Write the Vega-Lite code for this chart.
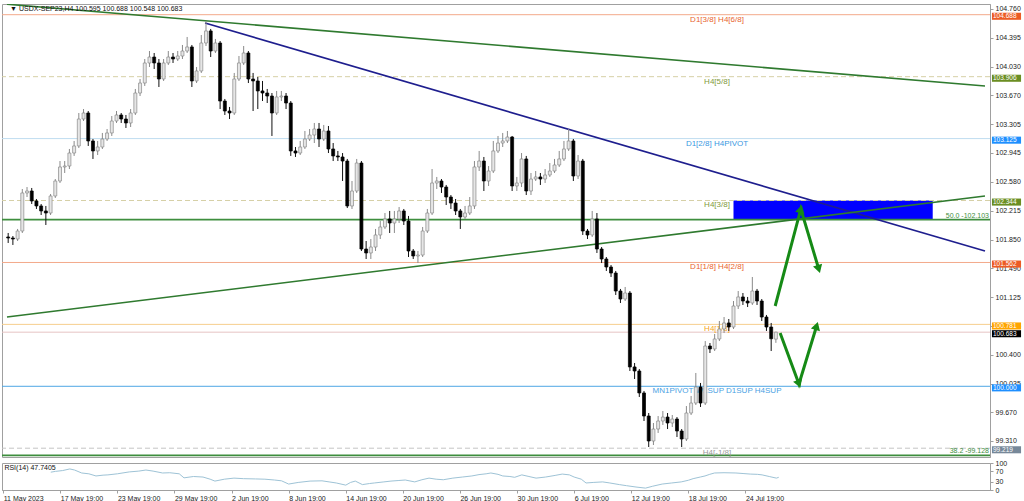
{
"$schema":"https://vega.github.io/schema/vega-lite/v6.json",
"padding":{"left":0,"top":3,"right":0,"bottom":0},
"background":"white",
"spacing":0,
"config":{"view":{"stroke":"#A0A0A0","strokeWidth":1},"axis":{"labelFont":"Liberation Sans","labelFontSize":7,"labelColor":"#222","domainColor":"#A0A0A0","tickColor":"#A0A0A0","grid":false},"text":{"font":"Liberation Sans"}},
"datasets":{
"candles":[
{"t":0,"o":101.884,"h":101.934,"l":101.808,"c":101.871},
{"t":2,"o":101.871,"h":101.896,"l":101.783,"c":101.858},
{"t":4,"o":101.858,"h":101.985,"l":101.833,"c":101.959},
{"t":6,"o":101.959,"h":102.489,"l":101.934,"c":102.439},
{"t":8,"o":102.439,"h":102.514,"l":102.388,"c":102.464},
{"t":10,"o":102.464,"h":102.502,"l":102.300,"c":102.338},
{"t":12,"o":102.338,"h":102.363,"l":102.237,"c":102.275},
{"t":14,"o":102.275,"h":102.300,"l":102.161,"c":102.212},
{"t":16,"o":102.212,"h":102.275,"l":102.035,"c":102.186},
{"t":18,"o":102.186,"h":102.426,"l":102.161,"c":102.401},
{"t":20,"o":102.401,"h":102.615,"l":102.376,"c":102.590},
{"t":22,"o":102.590,"h":102.842,"l":102.565,"c":102.767},
{"t":24,"o":102.767,"h":102.842,"l":102.691,"c":102.779},
{"t":26,"o":102.779,"h":102.994,"l":102.741,"c":102.943},
{"t":28,"o":102.943,"h":103.095,"l":102.906,"c":103.032},
{"t":30,"o":103.032,"h":103.448,"l":103.006,"c":103.372},
{"t":32,"o":103.372,"h":103.498,"l":103.347,"c":103.448},
{"t":34,"o":103.448,"h":103.473,"l":103.032,"c":103.095},
{"t":36,"o":103.095,"h":103.120,"l":102.868,"c":102.969},
{"t":38,"o":102.969,"h":103.095,"l":102.918,"c":103.019},
{"t":40,"o":103.019,"h":103.196,"l":102.994,"c":103.120},
{"t":42,"o":103.120,"h":103.246,"l":103.095,"c":103.196},
{"t":44,"o":103.196,"h":103.410,"l":103.158,"c":103.347},
{"t":46,"o":103.347,"h":103.473,"l":103.322,"c":103.423},
{"t":48,"o":103.423,"h":103.448,"l":103.322,"c":103.372},
{"t":50,"o":103.372,"h":103.423,"l":103.259,"c":103.322},
{"t":52,"o":103.322,"h":103.498,"l":103.271,"c":103.448},
{"t":54,"o":103.448,"h":103.751,"l":103.423,"c":103.700},
{"t":56,"o":103.700,"h":103.877,"l":103.662,"c":103.826},
{"t":58,"o":103.826,"h":104.129,"l":103.789,"c":104.079},
{"t":60,"o":104.079,"h":104.230,"l":104.028,"c":104.154},
{"t":62,"o":104.154,"h":104.205,"l":104.003,"c":104.079},
{"t":64,"o":104.079,"h":104.129,"l":103.776,"c":103.877},
{"t":66,"o":103.877,"h":104.129,"l":103.852,"c":104.079},
{"t":68,"o":104.079,"h":104.230,"l":104.054,"c":104.154},
{"t":70,"o":104.154,"h":104.205,"l":104.079,"c":104.129},
{"t":72,"o":104.129,"h":104.230,"l":104.104,"c":104.167},
{"t":74,"o":104.167,"h":104.306,"l":104.129,"c":104.230},
{"t":76,"o":104.230,"h":104.407,"l":104.205,"c":104.281},
{"t":78,"o":104.281,"h":104.306,"l":103.776,"c":103.852},
{"t":80,"o":103.852,"h":104.028,"l":103.826,"c":103.978},
{"t":82,"o":103.978,"h":104.432,"l":103.953,"c":104.331},
{"t":84,"o":104.331,"h":104.609,"l":104.293,"c":104.483},
{"t":86,"o":104.483,"h":104.508,"l":104.154,"c":104.230},
{"t":88,"o":104.230,"h":104.382,"l":104.205,"c":104.331},
{"t":90,"o":104.331,"h":104.356,"l":103.498,"c":103.599},
{"t":92,"o":103.599,"h":103.625,"l":103.423,"c":103.473},
{"t":94,"o":103.473,"h":103.524,"l":103.372,"c":103.448},
{"t":96,"o":103.448,"h":103.953,"l":103.423,"c":103.877},
{"t":98,"o":103.877,"h":104.167,"l":103.852,"c":104.079},
{"t":100,"o":104.079,"h":104.293,"l":104.054,"c":104.205},
{"t":102,"o":104.205,"h":104.230,"l":103.826,"c":103.877},
{"t":104,"o":103.877,"h":103.953,"l":103.473,"c":103.852},
{"t":106,"o":103.852,"h":103.902,"l":103.498,"c":103.726},
{"t":108,"o":103.726,"h":103.852,"l":103.599,"c":103.700},
{"t":110,"o":103.700,"h":103.751,"l":103.574,"c":103.662},
{"t":112,"o":103.662,"h":103.700,"l":103.158,"c":103.448},
{"t":114,"o":103.448,"h":103.726,"l":103.423,"c":103.650},
{"t":116,"o":103.650,"h":103.726,"l":103.599,"c":103.662},
{"t":118,"o":103.662,"h":103.700,"l":103.498,"c":103.574},
{"t":120,"o":103.574,"h":103.599,"l":102.906,"c":102.969},
{"t":122,"o":102.969,"h":103.019,"l":102.893,"c":102.943},
{"t":124,"o":102.943,"h":103.095,"l":102.918,"c":103.019},
{"t":126,"o":103.019,"h":103.221,"l":102.994,"c":103.120},
{"t":128,"o":103.120,"h":103.246,"l":103.095,"c":103.170},
{"t":130,"o":103.170,"h":103.322,"l":103.069,"c":103.246},
{"t":132,"o":103.246,"h":103.322,"l":103.019,"c":103.120},
{"t":134,"o":103.120,"h":103.297,"l":103.095,"c":103.221},
{"t":136,"o":103.221,"h":103.284,"l":102.943,"c":102.994},
{"t":138,"o":102.994,"h":103.069,"l":102.842,"c":102.906},
{"t":140,"o":102.906,"h":102.969,"l":102.842,"c":102.893},
{"t":142,"o":102.893,"h":102.943,"l":102.590,"c":102.842},
{"t":144,"o":102.842,"h":102.868,"l":102.249,"c":102.275},
{"t":146,"o":102.275,"h":102.590,"l":102.237,"c":102.464},
{"t":148,"o":102.464,"h":102.868,"l":102.439,"c":102.817},
{"t":150,"o":102.817,"h":102.842,"l":101.707,"c":101.732},
{"t":152,"o":101.732,"h":101.833,"l":101.606,"c":101.682},
{"t":154,"o":101.682,"h":101.858,"l":101.606,"c":101.757},
{"t":156,"o":101.757,"h":101.985,"l":101.707,"c":101.909},
{"t":158,"o":101.909,"h":102.085,"l":101.858,"c":102.010},
{"t":160,"o":102.010,"h":102.186,"l":101.985,"c":102.111},
{"t":162,"o":102.111,"h":102.212,"l":101.934,"c":102.060},
{"t":164,"o":102.060,"h":102.212,"l":101.934,"c":102.111},
{"t":166,"o":102.111,"h":102.262,"l":102.060,"c":102.212},
{"t":168,"o":102.212,"h":102.237,"l":102.035,"c":102.085},
{"t":170,"o":102.085,"h":102.149,"l":101.631,"c":101.707},
{"t":172,"o":101.707,"h":101.732,"l":101.606,"c":101.644},
{"t":174,"o":101.644,"h":101.707,"l":101.555,"c":101.656},
{"t":176,"o":101.656,"h":102.010,"l":101.631,"c":101.959},
{"t":178,"o":101.959,"h":102.237,"l":101.934,"c":102.186},
{"t":180,"o":102.186,"h":102.741,"l":102.161,"c":102.565},
{"t":182,"o":102.565,"h":102.641,"l":102.489,"c":102.590},
{"t":184,"o":102.590,"h":102.615,"l":102.439,"c":102.514},
{"t":186,"o":102.514,"h":102.540,"l":102.287,"c":102.388},
{"t":188,"o":102.388,"h":102.413,"l":102.237,"c":102.312},
{"t":190,"o":102.312,"h":102.363,"l":102.161,"c":102.212},
{"t":192,"o":102.212,"h":102.237,"l":101.985,"c":102.136},
{"t":194,"o":102.136,"h":102.275,"l":102.111,"c":102.186},
{"t":196,"o":102.186,"h":102.388,"l":102.161,"c":102.275},
{"t":198,"o":102.275,"h":102.842,"l":102.237,"c":102.767},
{"t":200,"o":102.767,"h":102.969,"l":102.716,"c":102.842},
{"t":202,"o":102.842,"h":102.893,"l":102.464,"c":102.590},
{"t":204,"o":102.590,"h":102.779,"l":102.527,"c":102.716},
{"t":206,"o":102.716,"h":103.095,"l":102.691,"c":102.969},
{"t":208,"o":102.969,"h":103.158,"l":102.943,"c":103.069},
{"t":210,"o":103.069,"h":103.196,"l":103.019,"c":103.095},
{"t":212,"o":103.095,"h":103.221,"l":103.069,"c":103.145},
{"t":214,"o":103.145,"h":103.158,"l":102.464,"c":102.527},
{"t":216,"o":102.527,"h":102.641,"l":102.464,"c":102.565},
{"t":218,"o":102.565,"h":102.943,"l":102.514,"c":102.868},
{"t":220,"o":102.868,"h":102.906,"l":102.413,"c":102.464},
{"t":222,"o":102.464,"h":102.691,"l":102.413,"c":102.615},
{"t":224,"o":102.615,"h":102.716,"l":102.590,"c":102.641},
{"t":226,"o":102.641,"h":102.691,"l":102.540,"c":102.615},
{"t":228,"o":102.615,"h":102.741,"l":102.565,"c":102.666},
{"t":230,"o":102.666,"h":102.817,"l":102.641,"c":102.716},
{"t":232,"o":102.716,"h":102.868,"l":102.691,"c":102.792},
{"t":234,"o":102.792,"h":102.969,"l":102.767,"c":102.868},
{"t":236,"o":102.868,"h":103.095,"l":102.842,"c":102.994},
{"t":238,"o":102.994,"h":103.246,"l":102.969,"c":103.095},
{"t":240,"o":103.095,"h":103.120,"l":102.590,"c":102.653},
{"t":242,"o":102.653,"h":102.918,"l":102.615,"c":102.842},
{"t":244,"o":102.842,"h":102.868,"l":101.909,"c":101.959},
{"t":246,"o":101.959,"h":101.985,"l":101.858,"c":101.909},
{"t":248,"o":101.909,"h":102.212,"l":101.884,"c":102.111},
{"t":250,"o":102.111,"h":102.186,"l":101.682,"c":101.732},
{"t":252,"o":101.732,"h":101.757,"l":101.555,"c":101.606},
{"t":254,"o":101.606,"h":101.631,"l":101.455,"c":101.505},
{"t":256,"o":101.505,"h":101.530,"l":101.379,"c":101.429},
{"t":258,"o":101.429,"h":101.455,"l":101.152,"c":101.202},
{"t":260,"o":101.202,"h":101.228,"l":101.051,"c":101.101},
{"t":262,"o":101.101,"h":101.253,"l":101.076,"c":101.177},
{"t":264,"o":101.177,"h":101.202,"l":100.193,"c":100.244},
{"t":266,"o":100.244,"h":100.294,"l":100.092,"c":100.193},
{"t":268,"o":100.193,"h":100.218,"l":99.865,"c":99.916},
{"t":270,"o":99.916,"h":99.941,"l":99.562,"c":99.625},
{"t":272,"o":99.625,"h":99.663,"l":99.234,"c":99.310},
{"t":274,"o":99.310,"h":99.537,"l":99.259,"c":99.461},
{"t":276,"o":99.461,"h":99.625,"l":99.411,"c":99.562},
{"t":278,"o":99.562,"h":99.688,"l":99.512,"c":99.612},
{"t":280,"o":99.612,"h":99.663,"l":99.461,"c":99.537},
{"t":282,"o":99.537,"h":99.638,"l":99.486,"c":99.587},
{"t":284,"o":99.587,"h":99.612,"l":99.360,"c":99.436},
{"t":286,"o":99.436,"h":99.461,"l":99.234,"c":99.335},
{"t":288,"o":99.335,"h":99.751,"l":99.310,"c":99.663},
{"t":290,"o":99.663,"h":99.878,"l":99.638,"c":99.789},
{"t":292,"o":99.789,"h":100.168,"l":99.764,"c":99.991},
{"t":294,"o":99.991,"h":100.042,"l":99.739,"c":99.789},
{"t":296,"o":99.789,"h":100.571,"l":99.764,"c":100.508},
{"t":298,"o":100.508,"h":100.546,"l":100.420,"c":100.471},
{"t":300,"o":100.471,"h":100.660,"l":100.445,"c":100.597},
{"t":302,"o":100.597,"h":100.824,"l":100.571,"c":100.723},
{"t":304,"o":100.723,"h":100.874,"l":100.672,"c":100.799},
{"t":306,"o":100.799,"h":100.849,"l":100.698,"c":100.748},
{"t":308,"o":100.748,"h":101.076,"l":100.723,"c":101.013},
{"t":310,"o":101.013,"h":101.202,"l":100.975,"c":101.127},
{"t":312,"o":101.127,"h":101.177,"l":101.026,"c":101.076},
{"t":314,"o":101.076,"h":101.127,"l":101.000,"c":101.051},
{"t":316,"o":101.051,"h":101.379,"l":101.026,"c":101.202},
{"t":318,"o":101.202,"h":101.228,"l":101.026,"c":101.076},
{"t":320,"o":101.076,"h":101.101,"l":100.824,"c":100.874},
{"t":322,"o":100.874,"h":100.900,"l":100.698,"c":100.748},
{"t":324,"o":100.748,"h":100.799,"l":100.445,"c":100.600},
{"t":326,"o":100.595,"h":100.688,"l":100.548,"c":100.683}
],
"levels":[
{"p":104.688,"name":"D1[3/8] H4[6/8]","kind":"r"},
{"p":103.906,"name":"H4[5/8]","kind":"ol"},
{"p":103.125,"name":"D1[2/8] H4PIVOT","kind":"bl"},
{"p":102.344,"name":"H4[3/8]","kind":"ol"},
{"p":101.562,"name":"D1[1/8] H4[2/8]","kind":"r"},
{"p":100.781,"name":"H4[1/8]","kind":"or"},
{"p":100.000,"name":"MN1PIVOT W1SUP D1SUP H4SUP","kind":"sup"},
{"p":99.219,"name":"H4[-1/8]","kind":"gr"},
{"p":100.683,"name":"","kind":"bid"}
],
"fibs":[
{"p":102.103,"name":"50.0 -102.103"},
{"p":99.128,"name":"38.2 -99.128"}
],
"trends":[
{"g":"top","t":-0.5,"p":104.820},
{"g":"top","t":414.8,"p":103.789},
{"g":"down","t":83.6,"p":104.583},
{"g":"down","t":414.8,"p":101.707},
{"g":"up","t":-0.5,"p":100.874},
{"g":"up","t":414.8,"p":102.401}
],
"zone":[{"t1":308.0,"t2":392.6,"p1":102.103,"p2":102.344}],
"arrows":[
{"g":"a1","t":325.7,"p":101.013},
{"g":"a1","t":336.6,"p":102.237},
{"g":"a1","t":344.2,"p":101.480},
{"g":"a2","t":327.8,"p":100.672},
{"g":"a2","t":335.8,"p":100.029},
{"g":"a2","t":343.3,"p":100.761}
],
"heads":[
{"t":336.6,"p":102.237,"ang":15},
{"t":344.2,"p":101.480,"ang":163},
{"t":335.8,"p":100.029,"ang":160},
{"t":343.3,"p":100.761,"ang":17}
],
"rsi":[
{"t":20,"r":66},{"t":22,"r":69},{"t":25,"r":72},{"t":28,"r":78},{"t":30,"r":74},{"t":33,"r":63},{"t":36,"r":60},{"t":39,"r":52},{"t":42,"r":55},{"t":44,"r":56},{"t":48,"r":60},{"t":53,"r":67},{"t":57,"r":70},{"t":60,"r":74},{"t":63,"r":70},{"t":67,"r":63},{"t":70,"r":64},{"t":74,"r":60},{"t":76,"r":45},{"t":80,"r":50},{"t":84,"r":48},{"t":87,"r":40},{"t":89,"r":33},{"t":93,"r":40},{"t":97,"r":44},{"t":101,"r":42},{"t":106,"r":41},{"t":110,"r":40},{"t":114,"r":37},{"t":117,"r":34},{"t":120,"r":22},{"t":124,"r":28},{"t":129,"r":33},{"t":134,"r":34},{"t":137,"r":30},{"t":140,"r":26},{"t":144,"r":18},{"t":146,"r":28},{"t":148,"r":33},{"t":151,"r":20},{"t":154,"r":24},{"t":156,"r":26},{"t":160,"r":30},{"t":163,"r":33},{"t":166,"r":35},{"t":169,"r":37},{"t":173,"r":30},{"t":176,"r":38},{"t":179,"r":44},{"t":182,"r":40},{"t":185,"r":38},{"t":189,"r":44},{"t":193,"r":48},{"t":197,"r":52},{"t":200,"r":57},{"t":203,"r":60},{"t":205,"r":63},{"t":208,"r":58},{"t":210,"r":52},{"t":213,"r":50},{"t":215,"r":47},{"t":218,"r":56},{"t":221,"r":50},{"t":224,"r":44},{"t":228,"r":48},{"t":232,"r":54},{"t":235,"r":59},{"t":238,"r":56},{"t":240,"r":48},{"t":243,"r":40},{"t":245,"r":26},{"t":248,"r":28},{"t":252,"r":30},{"t":255,"r":26},{"t":259,"r":20},{"t":262,"r":16},{"t":266,"r":11},{"t":270,"r":7},{"t":273,"r":14},{"t":277,"r":22},{"t":281,"r":26},{"t":285,"r":30},{"t":288,"r":36},{"t":290,"r":42},{"t":293,"r":48},{"t":295,"r":52},{"t":297,"r":58},{"t":299,"r":63},{"t":303,"r":64},{"t":308,"r":63},{"t":311,"r":61},{"t":314,"r":59},{"t":317,"r":58},{"t":319,"r":56},{"t":322,"r":50},{"t":325,"r":44},{"t":326,"r":47}
]
},
"vconcat":[
{
"width":988,"height":453,
"resolve":{"scale":{"color":"independent","strokeDash":"independent"},"axis":{"x":"independent","y":"independent"}},
"layer":[
{"data":{"name":"zone"},"mark":{"type":"rect","color":"#0000FF"},
 "encoding":{"x":{"field":"t1","type":"quantitative","scale":{"domain":[-0.5,414.8],"nice":false,"zero":false},"axis":null},"x2":{"field":"t2"},
 "y":{"field":"p1","type":"quantitative","scale":{"domain":[99.108,104.823],"nice":false,"zero":false},"axis":{"orient":"right","title":null,"values":[104.76,104.395,104.03,103.67,103.305,102.945,102.58,102.215,101.85,101.49,101.125,100.76,100.4,100.035,99.67,99.31],"format":".3f","tickSize":3,"labelPadding":2,"labelFontSize":7,"labelOverlap":false,"labelFlush":false}},"y2":{"field":"p2"}}},
{"data":{"name":"levels"},"mark":{"type":"rule","strokeWidth":1},
 "encoding":{"y":{"field":"p","type":"quantitative","scale":{"domain":[99.108,104.823],"nice":false,"zero":false},"axis":null},
 "color":{"field":"kind","type":"nominal","legend":null,"scale":{"domain":["r","ol","bl","or","sup","gr","bid"],"range":["#F3A98A","#D6D0A6","#BFDDF0","#F6CF8E","#4EA6E4","#C4C4C4","#E6C3C3"]}},
 "strokeDash":{"field":"kind","type":"nominal","legend":null,"scale":{"domain":["r","ol","bl","or","sup","gr","bid"],"range":[[1,0],[5,3],[1,0],[1,0],[1,0],[5,3],[1,0]]}}}},
{"data":{"name":"fibs"},"mark":{"type":"rule","strokeWidth":1.6,"color":"#3E8E3E"},
 "encoding":{"y":{"field":"p","type":"quantitative","scale":{"domain":[99.108,104.823],"nice":false,"zero":false},"axis":null}}},
{"data":{"name":"trends"},"mark":{"type":"line","strokeWidth":1.6,"clip":true},
 "encoding":{"x":{"field":"t","type":"quantitative","scale":{"domain":[-0.5,414.8],"nice":false,"zero":false},"axis":null},
 "y":{"field":"p","type":"quantitative","scale":{"domain":[99.108,104.823],"nice":false,"zero":false},"axis":null},
 "detail":{"field":"g"},
 "color":{"field":"g","type":"nominal","legend":null,"scale":{"domain":["top","down","up"],"range":["#2F7A2F","#1E1E8E","#2F7A2F"]}}}},
{"data":{"name":"levels"},"transform":[{"filter":"datum.name != ''"}],"mark":{"type":"text","align":"center","baseline":"top","dy":1,"fontSize":8},
 "encoding":{"x":{"datum":301,"type":"quantitative","scale":{"domain":[-0.5,414.8],"nice":false,"zero":false},"axis":null},
 "y":{"field":"p","type":"quantitative","scale":{"domain":[99.108,104.823],"nice":false,"zero":false},"axis":null},
 "text":{"field":"name"},
 "color":{"field":"kind","type":"nominal","legend":null,"scale":{"domain":["r","ol","bl","or","sup","gr","bid"],"range":["#E8642E","#7F9A3C","#3A98DF","#F5A623","#4A9FE3","#9A9A9A","#000000"]}}}},
{"data":{"name":"fibs"},"mark":{"type":"text","align":"right","baseline":"bottom","dx":-1,"dy":-1,"fontSize":7,"color":"#3E8E3E"},
 "encoding":{"x":{"value":"width"},
 "y":{"field":"p","type":"quantitative","scale":{"domain":[99.108,104.823],"nice":false,"zero":false},"axis":null},
 "text":{"field":"name"}}},
{"data":{"name":"candles"},"mark":{"type":"rule","strokeWidth":1},
 "encoding":{"x":{"field":"t","type":"quantitative","scale":{"domain":[-0.5,414.8],"nice":false,"zero":false},"axis":null},
 "y":{"field":"l","type":"quantitative","scale":{"domain":[99.108,104.823],"nice":false,"zero":false},"axis":null},"y2":{"field":"h"},
 "color":{"condition":{"test":"datum.c >= datum.o","value":"#8A8A8A"},"value":"#111111"}}},
{"data":{"name":"candles"},"mark":{"type":"bar","size":3,"strokeWidth":0.7},
 "encoding":{"x":{"field":"t","type":"quantitative","scale":{"domain":[-0.5,414.8],"nice":false,"zero":false},"axis":null},
 "y":{"field":"o","type":"quantitative","scale":{"domain":[99.108,104.823],"nice":false,"zero":false},"axis":null},"y2":{"field":"c"},
 "fill":{"condition":{"test":"datum.c >= datum.o","value":"#E6E6E6"},"value":"#000000"},
 "stroke":{"condition":{"test":"datum.c >= datum.o","value":"#8A8A8A"},"value":"#000000"}}},
{"data":{"name":"arrows"},"mark":{"type":"line","strokeWidth":3,"color":"#168A16","strokeJoin":"miter"},
 "encoding":{"x":{"field":"t","type":"quantitative","scale":{"domain":[-0.5,414.8],"nice":false,"zero":false},"axis":null},
 "y":{"field":"p","type":"quantitative","scale":{"domain":[99.108,104.823],"nice":false,"zero":false},"axis":null},
 "detail":{"field":"g"}}},
{"data":{"name":"heads"},"mark":{"type":"point","shape":"triangle-up","filled":true,"opacity":1,"color":"#168A16","size":90},
 "encoding":{"x":{"field":"t","type":"quantitative","scale":{"domain":[-0.5,414.8],"nice":false,"zero":false},"axis":null},
 "y":{"field":"p","type":"quantitative","scale":{"domain":[99.108,104.823],"nice":false,"zero":false},"axis":null},
 "angle":{"field":"ang","type":"quantitative","scale":null}}},
{"data":{"name":"levels"},"mark":{"type":"point","shape":"M0.13,-0.13L2.07,-0.13L2.07,0.34L0.13,0.34Z","filled":true,"opacity":1,"size":900,"strokeWidth":0},
 "encoding":{"x":{"value":"width"},
 "y":{"field":"p","type":"quantitative","scale":{"domain":[99.108,104.823],"nice":false,"zero":false},"axis":null},
 "color":{"field":"kind","type":"nominal","legend":null,"scale":{"domain":["r","ol","bl","or","sup","gr","bid"],"range":["#EC5B24","#6B8E23","#1E8FFF","#FFA500","#1E8FFF","#778899","#000000"]}}}},
{"data":{"name":"levels"},"mark":{"type":"text","align":"left","baseline":"middle","dx":3,"dy":1.6,"fontSize":6.5,"color":"#FFFFFF"},
 "encoding":{"x":{"value":"width"},
 "y":{"field":"p","type":"quantitative","scale":{"domain":[99.108,104.823],"nice":false,"zero":false},"axis":null},
 "text":{"field":"p","type":"quantitative","format":".3f"}}},
{"data":{"values":[{"s":"▼ USDX-SEP23,H4  100.595 100.688 100.548 100.683"}]},"mark":{"type":"text","align":"left","baseline":"middle","fontSize":7,"color":"#111111"},
 "encoding":{"x":{"datum":0.8,"type":"quantitative","scale":{"domain":[-0.5,414.8],"nice":false,"zero":false},"axis":null},
 "y":{"datum":104.765,"type":"quantitative","scale":{"domain":[99.108,104.823],"nice":false,"zero":false},"axis":null},
 "text":{"field":"s"}}}
]
},
{
"width":988,"height":27,
"resolve":{"axis":{"x":"independent","y":"independent"}},
"layer":[
{"data":{"name":"rsi"},"mark":{"type":"line","color":"#9EC3D6","strokeWidth":1},
 "encoding":{"x":{"field":"t","type":"quantitative","scale":{"domain":[-0.5,414.8],"nice":false,"zero":false},
  "axis":{"title":null,"values":[0,24,48,72,96,120,144,168,192,216,240,264,288,312],"labelExpr":"['11 May 2023','17 May 19:00','23 May 19:00','29 May 19:00','2 Jun 19:00','8 Jun 19:00','14 Jun 19:00','20 Jun 19:00','26 Jun 19:00','30 Jun 19:00','6 Jul 19:00','12 Jul 19:00','18 Jul 19:00','24 Jul 19:00'][round(datum.value/24)]","labelAlign":"left","labelPadding":1,"tickSize":3,"labelFontSize":7,"labelOverlap":false,"labelFlush":false}},
 "y":{"field":"r","type":"quantitative","scale":{"domain":[0,100],"nice":false,"zero":false},"axis":{"orient":"right","title":null,"values":[0,30,70,100],"tickSize":3,"labelPadding":2,"labelFontSize":7,"labelOverlap":false,"labelFlush":false}}}},
{"data":{"values":[{"s":"RSI(14) 47.7405"}]},"mark":{"type":"text","align":"left","baseline":"top","dy":1,"fontSize":7,"color":"#111111"},
 "encoding":{"x":{"datum":0.5,"type":"quantitative","scale":{"domain":[-0.5,414.8],"nice":false,"zero":false},"axis":null},
 "y":{"datum":100,"type":"quantitative","scale":{"domain":[0,100],"nice":false,"zero":false},"axis":null},
 "text":{"field":"s"}}}
]
}
]
}
